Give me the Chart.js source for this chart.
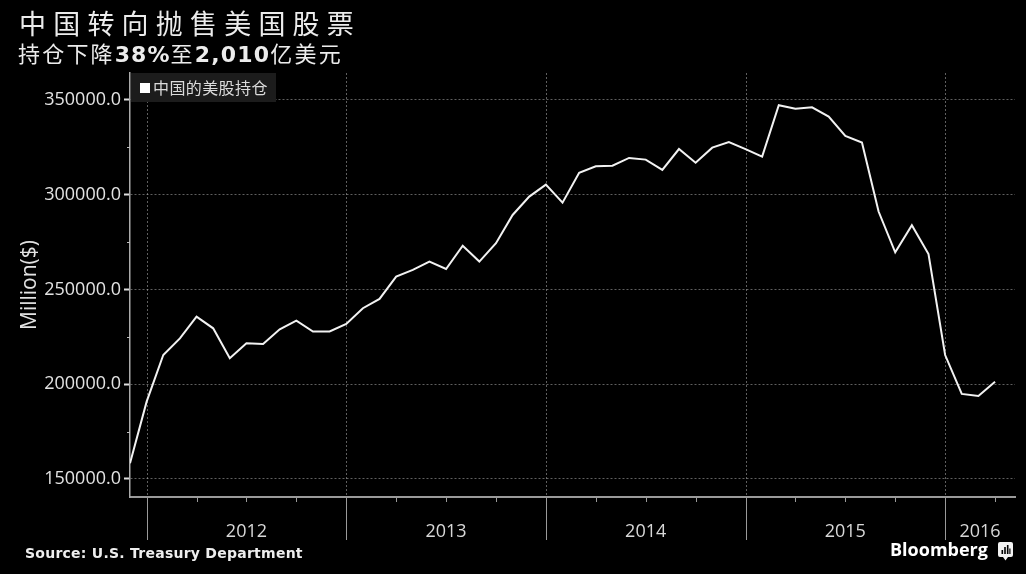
<!DOCTYPE html>
<html><head><meta charset="utf-8">
<script src="https://cdn.jsdelivr.net/npm/chart.js@4"></script>
<style>
html,body{margin:0;padding:0;background:#000;width:1026px;height:574px;overflow:hidden;}
#wrap{position:relative;width:1026px;height:574px;background:#000;}
canvas{position:absolute;left:0;top:0;}
.t{position:absolute;color:#ececec;white-space:nowrap;line-height:1;}
</style></head><body>
<div id="wrap">
<canvas id="c" width="1026" height="574"></canvas>
<div class="t" style="left:19px;top:9px;font-family:'Noto Sans CJK SC';font-size:27px;letter-spacing:7.2px;">中国转向抛售美国股票</div>
<div class="t" style="left:18px;top:41px;font-family:'Noto Sans CJK SC';font-size:22px;letter-spacing:2.2px;">持仓下降<b style="font-family:'DejaVu Sans';letter-spacing:1px;">38%</b>至<b style="font-family:'DejaVu Sans';letter-spacing:1.2px;">2,010</b>亿美元</div>
<div class="t" style="left:131px;top:73px;width:145px;height:29px;background:#1c1c1c;">
  <div style="position:absolute;left:9px;top:10px;width:10px;height:10px;background:#fff;"></div>
  <div style="position:absolute;left:22px;top:6px;font-family:'Noto Sans CJK SC';font-size:16px;letter-spacing:0.4px;color:#dcdcdc;">中国的美股持仓</div>
</div>
<div class="t" style="left:25px;top:546px;font-family:'DejaVu Sans';font-weight:bold;font-size:14px;letter-spacing:0.25px;color:#eee;">Source: U.S. Treasury Department</div>
<div class="t" style="left:890px;top:540px;font-family:'Open Sans';font-weight:700;font-size:18px;color:#fff;">Bloomberg</div>
<svg style="position:absolute;left:998px;top:542px;" width="15" height="19" viewBox="0 0 15 19">
  <path d="M2 0h11a2 2 0 0 1 2 2v11a2 2 0 0 1-2 2h-3l-2.5 3.5-2.5-3.5h-3a2 2 0 0 1-2-2v-11a2 2 0 0 1 2-2z" fill="#f2f2f2"/>
  <rect x="3.5" y="8" width="1.6" height="4" fill="#000"/>
  <rect x="6.2" y="5" width="1.6" height="7" fill="#000"/>
  <rect x="8.9" y="3" width="1.6" height="9" fill="#000"/>
  <rect x="11.3" y="6.5" width="1.2" height="5.5" fill="#000"/>
</svg>
</div>
<script>
// ---- data (month-end values, million USD) ----
const months = [
  '2011-11','2011-12',
  '2012-01','2012-02','2012-03','2012-04','2012-05','2012-06','2012-07','2012-08','2012-09','2012-10','2012-11','2012-12',
  '2013-01','2013-02','2013-03','2013-04','2013-05','2013-06','2013-07','2013-08','2013-09','2013-10','2013-11','2013-12',
  '2014-01','2014-02','2014-03','2014-04','2014-05','2014-06','2014-07','2014-08','2014-09','2014-10','2014-11','2014-12',
  '2015-01','2015-02','2015-03','2015-04','2015-05','2015-06','2015-07','2015-08','2015-09','2015-10','2015-11','2015-12',
  '2016-01','2016-02','2016-03'
];
const holdings = [
  158300,190800,
  215400,224200,235700,229500,213700,221600,221200,229000,233500,227800,227800,231800,
  240100,245000,256800,260300,264700,260800,273100,264700,274400,289300,299000,305300,
  295800,311600,315000,315300,319400,318500,313100,324100,316900,324800,327800,324000,
  320100,347200,345300,346100,341200,331000,327500,291100,269600,283900,268700,215400,
  194900,193800,201300
];
const yTickValues = [150000, 200000, 250000, 300000, 350000];
const yMinorValues = [175000, 225000, 275000, 325000];
const yearLabels = ['2012', '2013', '2014', '2015', '2016'];
const seriesName = '中国的美股持仓';

// ---- derived from months ----
const X_MAX = 53.2;
const yearStarts = months.map((m, i) => m.endsWith('-12') ? i : -1).filter(i => i >= 0);
const quarterTicks = months.map((m, i) => /-(03|06|09|12)$/.test(m) ? i : -1).filter(i => i >= 0);
const yearCenters = yearStarts.map((s, k) => k + 1 < yearStarts.length ? s + 6 : (s + X_MAX) / 2);

const gridColor = 'rgba(190,190,190,0.5)';

const decor = {
  id: 'decor',
  beforeDatasetsDraw(chart) {
    const {ctx, chartArea: a, scales: {x}} = chart;
    ctx.save();
    ctx.strokeStyle = gridColor; ctx.lineWidth = 1; ctx.setLineDash([2, 2]);
    yearStarts.forEach(v => {
      const px = Math.round(x.getPixelForValue(v)) + 0.5;
      ctx.beginPath(); ctx.moveTo(px, a.top); ctx.lineTo(px, a.bottom); ctx.stroke();
    });
    ctx.restore();
  },
  afterDraw(chart) {
    const {ctx, chartArea: a, scales: {x, y}} = chart;
    ctx.save();
    ctx.setLineDash([]);
    ctx.strokeStyle = '#9a9a9a'; ctx.lineWidth = 1;
    yearStarts.forEach(v => {
      const px = Math.round(x.getPixelForValue(v)) + 0.5;
      ctx.beginPath(); ctx.moveTo(px, a.bottom); ctx.lineTo(px, a.bottom + 43); ctx.stroke();
    });
    quarterTicks.forEach(v => {
      const px = Math.round(x.getPixelForValue(v)) + 0.5;
      ctx.beginPath(); ctx.moveTo(px, a.bottom); ctx.lineTo(px, a.bottom + 5); ctx.stroke();
    });
    ctx.strokeStyle = '#bbbbbb';
    yMinorValues.forEach(v => {
      const py = Math.round(y.getPixelForValue(v)) + 0.5;
      ctx.beginPath(); ctx.moveTo(a.left - 3, py); ctx.lineTo(a.left, py); ctx.stroke();
    });
    ctx.restore();
  }
};

new Chart(document.getElementById('c'), {
  type: 'line',
  data: {
    datasets: [{
      label: seriesName,
      data: holdings.map((v, i) => ({x: i, y: v})),
      borderColor: '#f2f2f2',
      borderWidth: 2,
      pointRadius: 0,
      tension: 0,
      fill: false
    }]
  },
  options: {
    responsive: false,
    animation: false,
    layout: {padding: {top: 73, right: 11, left: 0, bottom: 0}},
    plugins: {legend: {display: false}, tooltip: {enabled: false}},
    scales: {
      x: {
        type: 'linear', min: 0, max: X_MAX,
        afterBuildTicks: s => { s.ticks = yearCenters.map(v => ({value: v})); },
        afterFit: s => { s.height = 77; },
        grid: {display: false, drawTicks: false},
        border: {display: true, color: '#9a9a9a', width: 2},
        ticks: {
          color: '#d8d8d8', font: {family: 'Open Sans', size: 18}, padding: 24,
          autoSkip: false, maxRotation: 0,
          callback: (v, i) => yearLabels[i]
        }
      },
      y: {
        min: 140500, max: 364200,
        afterBuildTicks: s => { s.ticks = yTickValues.map(v => ({value: v})); },
        afterFit: s => { s.width = 130; },
        grid: {color: gridColor, lineWidth: 1, drawTicks: true, tickLength: 6, tickColor: '#dddddd', tickWidth: 2},
        border: {display: true, color: '#aaaaaa', width: 1.5, dash: [2, 2]},
        ticks: {
          color: '#e2e2e2', font: {family: 'Open Sans', size: 18}, padding: 3,
          callback: v => Number(v).toFixed(1)
        },
        title: {display: true, text: 'Million($)', color: '#e2e2e2', font: {family: 'Open Sans', size: 21}, padding: 17}
      }
    }
  },
  plugins: [decor]
});
</script>
</body></html>
